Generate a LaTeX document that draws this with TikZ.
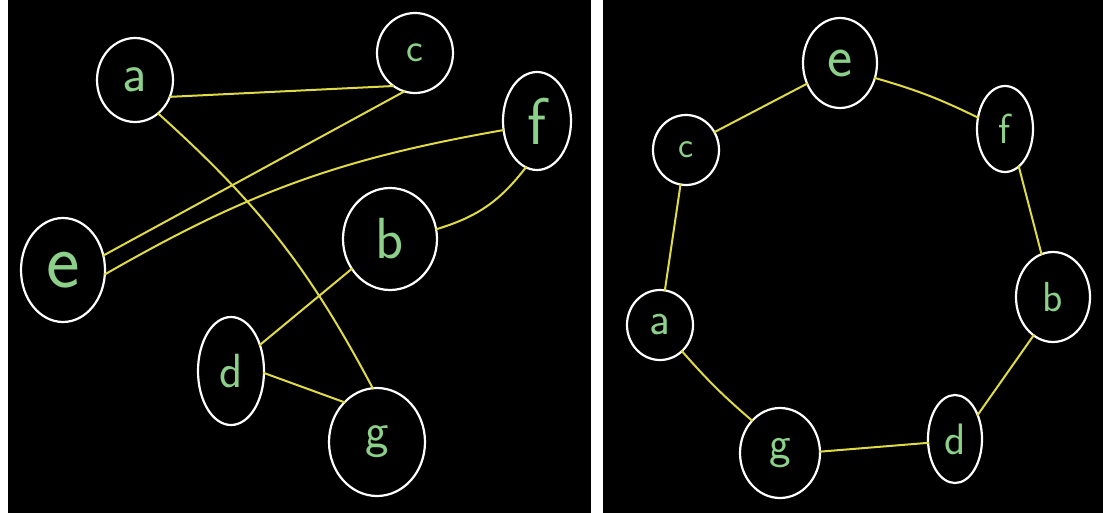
\documentclass[tikz,border=0pt]{standalone}
\usetikzlibrary{shapes.geometric}
\definecolor{edgey}{HTML}{E0DA45}
\definecolor{lblg}{HTML}{8DD08A}
\begin{document}
\begin{tikzpicture}[x=1pt,y=-1pt,
  vtx/.style={ellipse, draw=white, line width=2.2pt, inner sep=0pt, text=lblg},
  fs/.style={font=\sffamily\fontsize{#1}{#1}\selectfont},
  edge/.style={draw=edgey, line width=2pt, shorten <=-2pt, shorten >=-2pt}]
\useasboundingbox (0,0) rectangle (1103,513);
\fill[white] (0,0) rectangle (1103,513);
\fill[black] (8,0) rectangle (591,513);
\fill[black] (603,0) rectangle (1103,513);
% ---------- left panel ----------
\node[vtx, fs=54, minimum width=76pt, minimum height=84pt] (La) at (135,80) {a};
\node[vtx, fs=40, minimum width=76pt, minimum height=80pt] (Lc) at (415,53) {c};
\node[vtx, fs=66, minimum width=68pt, minimum height=98pt] (Lf) at (537,121) {f};
\node[vtx, fs=80, minimum width=84pt, minimum height=104pt] (Le) at (63,270) {e};
\node[vtx, fs=58, minimum width=94pt, minimum height=102pt] (Lb) at (390,239) {b};
\node[vtx, fs=48, minimum width=66pt, minimum height=108pt] (Ld) at (231,371) {d};
\node[vtx, fs=50, minimum width=96pt, minimum height=108pt] (Lg) at (377,442) {g};
\draw[edge] (La.-25) -- (Lc.235);
\draw[edge] (Lc.253) -- (Le.20);
\draw[edge] (Lf.195) to[bend right=10] (Le.-5);
\draw[edge] (Lf.256) to[bend left=18] (Lb.12);
\draw[edge] (La.-55) to[bend left=10] (Lg.95);
\draw[edge] (Lb.218) -- (Ld.42);
\draw[edge] (Ld.-4) -- (Lg.130);
% ---------- right panel ----------
\node[vtx, fs=60, minimum width=74pt, minimum height=90pt] (Re) at (840,63) {e};
\node[vtx, fs=42, minimum width=56pt, minimum height=86pt] (Rf) at (1005,129) {f};
\node[vtx, fs=36, minimum width=66pt, minimum height=70pt] (Rc) at (686,150) {c};
\node[vtx, fs=46, minimum width=66pt, minimum height=70pt] (Ra) at (660,325) {a};
\node[vtx, fs=42, minimum width=74pt, minimum height=90pt] (Rb) at (1053,297) {b};
\node[vtx, fs=44, minimum width=54pt, minimum height=88pt] (Rd) at (955,439) {d};
\node[vtx, fs=46, minimum width=80pt, minimum height=90pt] (Rg) at (780,453) {g};
\draw[edge] (Rc.32) -- (Re.212);
\draw[edge] (Re.-23) to[bend left=5] (Rf.157);
\draw[edge] (Rf.-70) -- (Rb.105);
\draw[edge] (Rc.-99) -- (Ra.82);
\draw[edge] (Ra.-50) to[bend right=4] (Rg.131);
\draw[edge] (Rg.2) -- (Rd.188);
\draw[edge] (Rb.-117) -- (Rd.47);
\end{tikzpicture}
\end{document}
